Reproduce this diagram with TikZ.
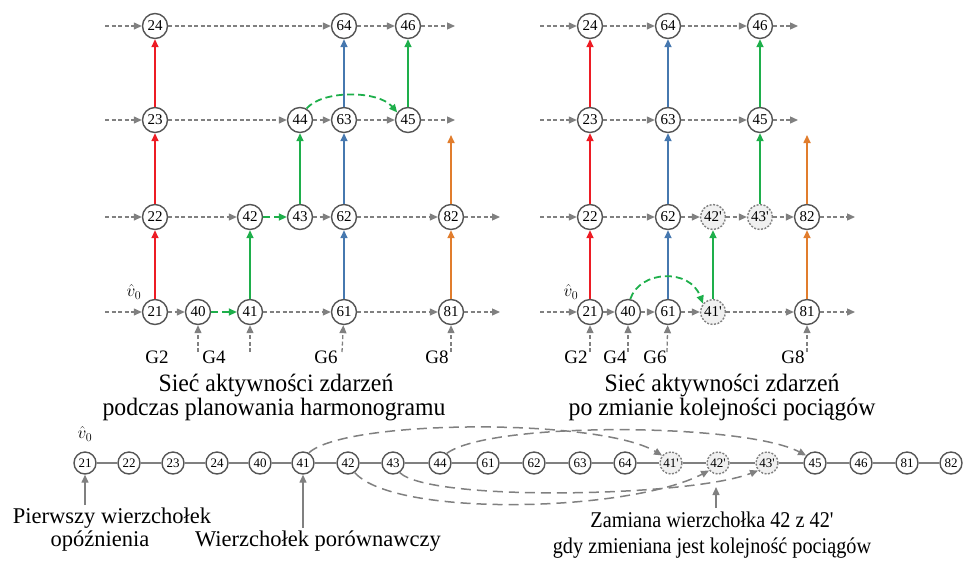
\documentclass[tikz,border=0pt]{standalone}
\usepackage{fontspec}
\usepackage{graphicx}
\setmainfont{Liberation Serif}[Ligatures=TeXOff]
\usetikzlibrary{arrows.meta}
\definecolor{ared}{RGB}{237,28,36}
\definecolor{agreen}{RGB}{30,175,75}
\definecolor{ablue}{RGB}{70,120,175}
\definecolor{aorange}{RGB}{225,125,45}
\definecolor{lgray}{RGB}{128,128,128}
\definecolor{cgray}{RGB}{85,85,85}
\begin{document}
\begin{tikzpicture}[x=1pt,y=-1pt,
  nd/.style={circle,draw=cgray,line width=1.4pt,fill=white,minimum size=25pt,inner sep=0pt,
    font=\fontsize{15}{15}\selectfont},
  ndx/.style={nd,draw=lgray,fill=gray!12,dash pattern=on 2pt off 1.5pt},
  bn/.style={nd,minimum size=22pt,font=\fontsize{13}{13}\selectfont},
  bnx/.style={ndx,minimum size=22pt,font=\fontsize{13}{13}\selectfont},
  arrtip/.style={-{Triangle[length=8pt,width=7pt]}},
  gd/.style={arrtip,draw=lgray,line width=1.3pt,dash pattern=on 4pt off 2.5pt},
  colarr/.style={arrtip,draw=#1,line width=1.6pt},
  cdash/.style={arrtip,draw=agreen,line width=1.8pt,dash pattern=on 7pt off 4pt},
  chainln/.style={draw=lgray,line width=1.3pt},
  swaparc/.style={arrtip,draw=lgray,line width=1.5pt,dash pattern=on 10pt off 6pt},
  notearr/.style={arrtip,draw=lgray,line width=1.4pt},
  glab/.style={anchor=base,inner sep=0pt,font=\fontsize{19}{19}\selectfont},
  captext/.style={anchor=base,inner sep=0pt,font=\fontsize{25}{25}\selectfont},
  lowtext/.style={anchor=base,inner sep=0pt,font=\fontsize{22.5}{22.5}\selectfont},
  vh/.style={font=\fontsize{17}{17}\selectfont}]
\useasboundingbox (0,0) rectangle (968,571);

% ---------- left network ----------
\node[nd] (a24) at (155,26) {24};
\node[nd] (a64) at (344,26) {64};
\node[nd] (a46) at (408,26) {46};
\node[nd] (a23) at (155,120) {23};
\node[nd] (a44) at (300,120) {44};
\node[nd] (a63) at (344,120) {63};
\node[nd] (a45) at (408,120) {45};
\node[nd] (a22) at (155,217) {22};
\node[nd] (a42) at (250,217) {42};
\node[nd] (a43) at (300,217) {43};
\node[nd] (a62) at (344,217) {62};
\node[nd] (a82) at (451,217) {82};
\node[nd] (a21) at (155,312) {21};
\node[nd] (a40) at (198,312) {40};
\node[nd] (a41) at (250,312) {41};
\node[nd] (a61) at (344,312) {61};
\node[nd] (a81) at (451,312) {81};

\coordinate (as24) at (105,26);  \coordinate (ae24) at (455,26);
\coordinate (as23) at (105,120); \coordinate (ae23) at (455,120);
\coordinate (as22) at (105,217); \coordinate (ae22) at (500,217);
\coordinate (as21) at (105,312); \coordinate (ae21) at (500,312);
\coordinate (ao) at (451,135);

\draw[gd] (as24) -- (a24); \draw[gd] (a24) -- (a64); \draw[gd] (a64) -- (a46); \draw[gd] (a46) -- (ae24);
\draw[gd] (as23) -- (a23); \draw[gd] (a23) -- (a44); \draw[gd] (a44) -- (a63); \draw[gd] (a63) -- (a45); \draw[gd] (a45) -- (ae23);
\draw[gd] (as22) -- (a22); \draw[gd] (a22) -- (a42); \draw[cdash] (a42) -- (a43); \draw[gd] (a43) -- (a62); \draw[gd] (a62) -- (a82); \draw[gd] (a82) -- (ae22);
\draw[gd] (as21) -- (a21); \draw[gd] (a21) -- (a40); \draw[cdash] (a40) -- (a41); \draw[gd] (a41) -- (a61); \draw[gd] (a61) -- (a81); \draw[gd] (a81) -- (ae21);

\draw[colarr=ared] (a21) -- (a22); \draw[colarr=ared] (a22) -- (a23); \draw[colarr=ared] (a23) -- (a24);
\draw[colarr=agreen] (a41) -- (a42); \draw[colarr=agreen] (a43) -- (a44); \draw[colarr=agreen] (a45) -- (a46);
\draw[colarr=ablue] (a61) -- (a62); \draw[colarr=ablue] (a62) -- (a63); \draw[colarr=ablue] (a63) -- (a64);
\draw[colarr=aorange] (a81) -- (a82); \draw[colarr=aorange] (a82) -- (ao);
\draw[cdash] (a44.60) .. controls (322,90) and (378,90) .. (a45.145);

\coordinate (ag40) at (198,352); \coordinate (ag41) at (250,352);
\coordinate (ag61) at (342,352); \coordinate (ag81) at (451,352);
\draw[gd] (ag40) -- (a40); \draw[gd] (ag41) -- (a41); \draw[gd] (ag61) -- (a61); \draw[gd] (ag81) -- (a81);
\node[glab] (aG2) at (157,363) {G2};
\node[glab] (aG4) at (214,363) {G4};
\node[glab] (aG6) at (326,363) {G6};
\node[glab] (aG8) at (437,363) {G8};
\node[vh] (av0) at (134,292) {$\hat{v}_0$};
\node[captext] (acap1) at (276,391) {\scalebox{0.95}[1]{Sieć aktywności zdarzeń}};
\node[captext] (acap2) at (274,415.5) {\scalebox{0.95}[1]{podczas planowania harmonogramu}};

% ---------- right network ----------
\node[nd] (b24) at (590,26) {24};
\node[nd] (b64) at (668,26) {64};
\node[nd] (b46) at (760,26) {46};
\node[nd] (b23) at (590,120) {23};
\node[nd] (b63) at (668,120) {63};
\node[nd] (b45) at (760,120) {45};
\node[nd] (b22) at (590,217) {22};
\node[nd] (b62) at (668,217) {62};
\node[ndx] (b42p) at (713,217) {42'};
\node[ndx] (b43p) at (760,217) {43'};
\node[nd] (b82) at (807,217) {82};
\node[nd] (b21) at (590,312) {21};
\node[nd] (b40) at (628,312) {40};
\node[nd] (b61) at (668,312) {61};
\node[ndx] (b41p) at (713,312) {41'};
\node[nd] (b81) at (807,312) {81};

\coordinate (bs24) at (540,26);  \coordinate (be24) at (798,26);
\coordinate (bs23) at (540,120); \coordinate (be23) at (798,120);
\coordinate (bs22) at (540,217); \coordinate (be22) at (855,217);
\coordinate (bs21) at (540,312); \coordinate (be21) at (855,312);
\coordinate (bo) at (807,135);

\draw[gd] (bs24) -- (b24); \draw[gd] (b24) -- (b64); \draw[gd] (b64) -- (b46); \draw[gd] (b46) -- (be24);
\draw[gd] (bs23) -- (b23); \draw[gd] (b23) -- (b63); \draw[gd] (b63) -- (b45); \draw[gd] (b45) -- (be23);
\draw[gd] (bs22) -- (b22); \draw[gd] (b22) -- (b62); \draw[gd] (b62) -- (b42p); \draw[gd] (b42p) -- (b43p); \draw[gd] (b43p) -- (b82); \draw[gd] (b82) -- (be22);
\draw[gd] (bs21) -- (b21); \draw[gd] (b21) -- (b40); \draw[gd] (b40) -- (b61); \draw[gd] (b61) -- (b41p); \draw[gd] (b41p) -- (b81); \draw[gd] (b81) -- (be21);

\draw[colarr=ared] (b21) -- (b22); \draw[colarr=ared] (b22) -- (b23); \draw[colarr=ared] (b23) -- (b24);
\draw[colarr=ablue] (b61) -- (b62); \draw[colarr=ablue] (b62) -- (b63); \draw[colarr=ablue] (b63) -- (b64);
\draw[colarr=agreen] (b41p) -- (b42p); \draw[colarr=agreen] (b43p) -- (b45); \draw[colarr=agreen] (b45) -- (b46);
\draw[colarr=aorange] (b81) -- (b82); \draw[colarr=aorange] (b82) -- (bo);
\draw[cdash] (b40.80) .. controls (640,270) and (690,268) .. (b41p.140);

\coordinate (bg21) at (590,352); \coordinate (bg40) at (628,352);
\coordinate (bg61) at (667,352); \coordinate (bg81) at (807,352);
\draw[gd] (bg21) -- (b21); \draw[gd] (bg40) -- (b40); \draw[gd] (bg61) -- (b61); \draw[gd] (bg81) -- (b81);
\node[glab] (bG2) at (576,363) {G2};
\node[glab] (bG4) at (615,363) {G4};
\node[glab] (bG6) at (655,363) {G6};
\node[glab] (bG8) at (793,363) {G8};
\node[vh] (bv0) at (571,292) {$\hat{v}_0$};
\node[captext] (bcap1) at (722,391) {\scalebox{0.95}[1]{Sieć aktywności zdarzeń}};
\node[captext] (bcap2) at (722,415.5) {\scalebox{0.95}[1]{po zmianie kolejności pociągów}};

% ---------- vertex sequence ----------
\node[bn] (c21) at (85,463) {21};
\node[bn] (c22) at (129,463) {22};
\node[bn] (c23) at (173,463) {23};
\node[bn] (c24) at (217,463) {24};
\node[bn] (c40) at (260,463) {40};
\node[bn] (c41) at (303,463) {41};
\node[bn] (c42) at (348,463) {42};
\node[bn] (c43) at (393,463) {43};
\node[bn] (c44) at (440,463) {44};
\node[bn] (c61) at (488,463) {61};
\node[bn] (c62) at (534,463) {62};
\node[bn] (c63) at (580,463) {63};
\node[bn] (c64) at (625,463) {64};
\node[bnx] (c41p) at (671,463) {41'};
\node[bnx] (c42p) at (718,463) {42'};
\node[bnx] (c43p) at (767,463) {43'};
\node[bn] (c45) at (815,463) {45};
\node[bn] (c46) at (861,463) {46};
\node[bn] (c81) at (907,463) {81};
\node[bn] (c82) at (951,463) {82};
\foreach \u/\w in {c21/c22,c22/c23,c23/c24,c24/c40,c40/c41,c41/c42,c42/c43,c43/c44,c44/c61,
  c61/c62,c62/c63,c63/c64,c64/c41p,c41p/c42p,c42p/c43p,c43p/c45,c45/c46,c46/c81,c81/c82}
  \draw[chainln] (\u) -- (\w);

\draw[swaparc] (c41.60) .. controls (345,419) and (600,418) .. (c41p.140);
\draw[swaparc] (c44.55) .. controls (490,421) and (745,423) .. (c45.140);
\draw[swaparc] (c42.-55) .. controls (395,518) and (630,512) .. (c42p.-140);
\draw[swaparc] (c43.-55) .. controls (430,502) and (690,497) .. (c43p.-140);

\node[vh] (cv0) at (85,434) {$\hat{v}_0$};

\coordinate (n21) at (85,505);
\coordinate (n41) at (303,528);
\coordinate (nsw) at (716,508); \coordinate (nswt) at (716,487);
\draw[notearr] (n21) -- (c21);
\draw[notearr] (n41) -- (c41);
\draw[notearr] (nsw) -- (nswt);

\node[lowtext] (t1a) at (112,523) {Pierwszy wierzchołek};
\node[lowtext] (t1b) at (100,546) {opóźnienia};
\node[lowtext] (t2) at (318,546) {Wierzchołek porównawczy};
\node[lowtext] (t3a) at (712,527) {\scalebox{0.9}[1]{Zamiana wierzchołka 42 z 42'}};
\node[lowtext] (t3b) at (712,553) {\scalebox{0.9}[1]{gdy zmieniana jest kolejność pociągów}};
\end{tikzpicture}
\end{document}
